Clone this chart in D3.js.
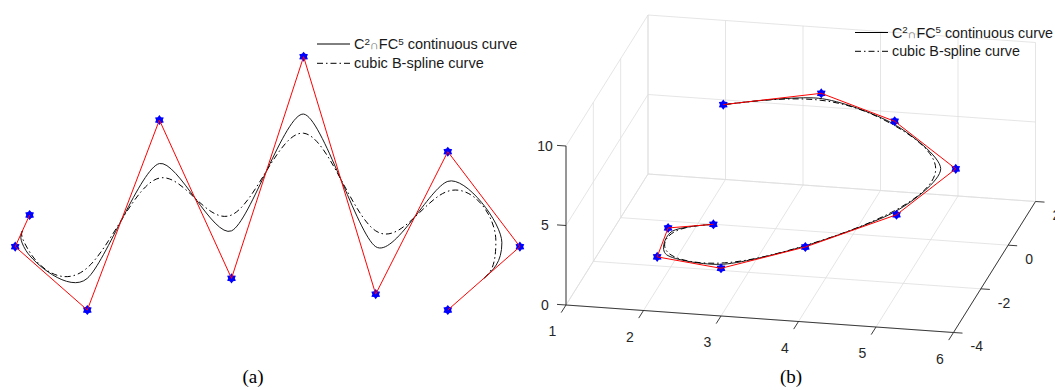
<!DOCTYPE html>
<html>
<head>
<meta charset="utf-8">
<script src="https://cdn.jsdelivr.net/npm/d3@7.9.0/dist/d3.min.js"></script>
<style>
  body { margin: 0; background: #fff; }
  svg { display: block; font-family: "Liberation Sans", Arial, Helvetica, sans-serif; }
</style>
</head>
<body>
<svg id="chart" width="1055" height="390"></svg>
<script>
// (a) planar control polygon
const ctrlX = [0.2, 0, 1, 2, 3, 4, 5, 6, 7, 6];
const ctrlY = [3, 2, 0, 6, 1, 8, 0.5, 5, 2, 0];

// (b) spatial control polygon
const ctrl3X = [2.32, 1.85, 2, 3, 4, 5, 5.5, 4.5, 3.5, 2.5];
const ctrl3Y = [-0.7, -1.35, -3, -4, -3.5, -2.5, -1, 0.2, 0.5, -1];
const ctrl3Z = [1, 1.5, 2, 3, 4, 5, 6, 7, 8, 9];

const xTicks3 = [1, 2, 3, 4, 5, 6];
const yTicks3 = [-4, -2, 0, 2];
const zTicks3 = [0, 5, 10];

const legendLabels = ["continuous curve", "cubic B-spline curve"];
const panelLabels = ["(a)", "(b)"];

// blending weights: 1/3 gives the uniform cubic B-spline, 1/4 the tighter C2∩FC5 curve
const W_FC5 = 1 / 4, W_BSPLINE = 1 / 3;

const svg = d3.select("#chart");
const pointsA = ctrlX.map((x, i) => ({ x, y: ctrlY[i] }));
const points3 = ctrl3X.map((x, i) => ({ x, y: ctrl3Y[i], z: ctrl3Z[i] }));

// curve factory in the style of d3.curveBasis, with adjustable weight
function splineCurve(a, clamped) {
  return function(context) {
    let pts = [];
    return {
      areaStart() {}, areaEnd() {},
      lineStart() { pts = []; },
      point(x, y) { pts.push([+x, +y]); },
      lineEnd() {
        const n = pts.length, c = context;
        const L = (p, q, t) => [p[0] + (q[0] - p[0]) * t, p[1] + (q[1] - p[1]) * t];
        const M = (p, q) => L(p, q, 0.5);
        const knot = i => M(L(pts[i], pts[i - 1], a), L(pts[i], pts[i + 1], a));
        let s;
        if (clamped) { c.moveTo(pts[0][0], pts[0][1]); s = L(pts[0], pts[1], a / 2); c.lineTo(s[0], s[1]); }
        else { s = M(pts[0], pts[1]); c.moveTo(s[0], s[1]); }
        for (let j = 0; j < n - 1; j++) {
          let c1 = L(pts[j], pts[j + 1], a), c2 = L(pts[j + 1], pts[j], a), e;
          if (j < n - 2) e = knot(j + 1);
          else e = clamped ? L(pts[n - 1], pts[n - 2], a / 2) : M(pts[n - 2], pts[n - 1]);
          if (!clamped && j === 0) c1 = M(s, c2);
          if (!clamped && j === n - 2) c2 = M(c1, e);
          c.bezierCurveTo(c1[0], c1[1], c2[0], c2[1], e[0], e[1]);
        }
        if (clamped) c.lineTo(pts[n - 1][0], pts[n - 1][1]);
      }
    };
  };
}

const symbolHexagram = {
  draw(context, size) {
    const r = Math.sqrt(size) * 0.8;
    for (let k = 0; k < 12; k++) {
      const ang = -Math.PI / 2 + k * Math.PI / 6;
      const rr = k % 2 === 0 ? r : r * 0.66;
      if (k === 0) context.moveTo(rr * Math.cos(ang), rr * Math.sin(ang));
      else context.lineTo(rr * Math.cos(ang), rr * Math.sin(ang));
    }
    context.closePath();
  }
};
const star = d3.symbol().type(symbolHexagram).size(40);

function drawCurves(g, data, px, py, clamped) {
  g.append("path").datum(data)
    .attr("fill", "none").attr("stroke", "#1a1a1a").attr("stroke-width", 1)
    .attr("d", d3.line().x(px).y(py).curve(splineCurve(W_FC5, clamped)));
  g.append("path").datum(data)
    .attr("fill", "none").attr("stroke", "#000").attr("stroke-width", 1)
    .attr("stroke-dasharray", "6,3,1.5,3")
    .attr("d", d3.line().x(px).y(py).curve(splineCurve(W_BSPLINE, clamped)));
  g.selectAll(".star").data(data).enter().append("path")
    .attr("transform", d => `translate(${px(d)},${py(d)})`)
    .attr("d", star).attr("fill", "#0000ff");
  g.append("path").datum(data)
    .attr("fill", "none").attr("stroke", "#ff0000").attr("stroke-width", 1)
    .attr("d", d3.line().x(px).y(py));
}

function drawLegend(g, x, y, gap, size) {
  legendLabels.forEach((lab, i) => {
    const yy = y + i * gap;
    g.append("line").attr("x1", x).attr("x2", x + 33).attr("y1", yy).attr("y2", yy)
      .attr("stroke", "#000").attr("stroke-width", 1)
      .attr("stroke-dasharray", i === 1 ? "6,3,1.5,3" : null);
    const t = g.append("text").attr("x", x + 37).attr("y", yy + 5)
      .attr("font-size", size).attr("fill", "#1a1a1a");
    if (i === 0) {
      const up = size * 0.3;
      t.append("tspan").text("C");
      t.append("tspan").attr("dy", -up).attr("font-size", size * 0.68).text("2");
      t.append("tspan").attr("dy", up).attr("font-size", size * 0.85).attr("fill", "#666").text("\u2229");
      t.append("tspan").text("FC");
      t.append("tspan").attr("dy", -up).attr("font-size", size * 0.68).text("5");
      t.append("tspan").attr("dy", up).text(" " + lab);
    } else {
      t.text(lab);
    }
  });
}

// ---------- panel (a)
const xA = d3.scaleLinear().domain([0, 7]).range([15.2, 519.9]);
const yA = d3.scaleLinear().domain([0, 8]).range([310, 56.7]);
const gA = svg.append("g");
drawCurves(gA, pointsA, d => xA(d.x), d => yA(d.y), false);
drawLegend(gA, 317, 44, 19.3, 14.5);
gA.append("text").attr("x", 253).attr("y", 383).attr("text-anchor", "middle")
  .attr("font-family", "'Liberation Serif', 'Times New Roman', serif").attr("font-size", 19)
  .text(panelLabels[0]);

// ---------- panel (b): oblique 3-D view
const sxX = d3.scaleLinear().domain([1, 6]).range([566, 953.5]);
const syX = d3.scaleLinear().domain([1, 6]).range([305, 332.5]);
const sxY = d3.scaleLinear().domain([-4, 2]).range([0, 82]);
const syY = d3.scaleLinear().domain([-4, 2]).range([0, -131]);
const syZ = d3.scaleLinear().domain([0, 10]).range([0, -159]);
const proj = (x, y, z) => [sxX(x) + sxY(y), syX(x) + syY(y) + syZ(z)];

const x0 = xTicks3[0], x1 = xTicks3[xTicks3.length - 1];
const y0 = yTicks3[0], y1 = yTicks3[yTicks3.length - 1];
const z0 = zTicks3[0], z1 = zTicks3[zTicks3.length - 1];

const gB = svg.append("g");
const seg = (a, b, col, w) => {
  const p = proj(...a), q = proj(...b);
  gB.append("line").attr("x1", p[0]).attr("y1", p[1]).attr("x2", q[0]).attr("y2", q[1])
    .attr("stroke", col).attr("stroke-width", w);
};
const grid = "#dedede";
xTicks3.forEach(x => { seg([x, y0, z0], [x, y1, z0], grid, 0.8); seg([x, y1, z0], [x, y1, z1], grid, 0.8); });
yTicks3.forEach(y => { seg([x0, y, z0], [x1, y, z0], grid, 0.8); seg([x0, y, z0], [x0, y, z1], grid, 0.8); });
zTicks3.forEach(z => { seg([x0, y1, z], [x1, y1, z], grid, 0.8); seg([x0, y0, z], [x0, y1, z], grid, 0.8); });

const axisCol = "#262626";
seg([x0, y0, z0], [x1, y0, z0], axisCol, 0.9);
seg([x1, y0, z0], [x1, y1, z0], axisCol, 0.9);
seg([x0, y0, z0], [x0, y0, z1], axisCol, 0.9);

const tick = (p, dx, dy) => gB.append("line").attr("x1", p[0]).attr("y1", p[1])
  .attr("x2", p[0] + dx).attr("y2", p[1] + dy).attr("stroke", axisCol).attr("stroke-width", 0.9);
const tickLabel = (p, dx, dy, anchor, txt) => gB.append("text")
  .attr("x", p[0] + dx).attr("y", p[1] + dy).attr("dy", "0.35em").attr("text-anchor", anchor)
  .attr("font-size", 14).attr("fill", axisCol).text(txt);

xTicks3.forEach(x => { const p = proj(x, y0, z0); tick(p, -4.8, 7.6); tickLabel(p, -13.5, 26.5, "middle", x); });
yTicks3.forEach(y => { const p = proj(x1, y, z0); tick(p, 9, 0.6); tickLabel(p, 17, 14, "start", y); });
zTicks3.forEach(z => { const p = proj(x0, y0, z); tick(p, -9, -0.6); tickLabel(p, -21, 0, "middle", z); });

drawCurves(gB, points3, d => proj(d.x, d.y, d.z)[0], d => proj(d.x, d.y, d.z)[1], true);
drawLegend(gB, 855, 32.5, 18.8, 14.3);
gB.append("text").attr("x", 791).attr("y", 383).attr("text-anchor", "middle")
  .attr("font-family", "'Liberation Serif', 'Times New Roman', serif").attr("font-size", 19)
  .text(panelLabels[1]);
</script>
</body>
</html>
